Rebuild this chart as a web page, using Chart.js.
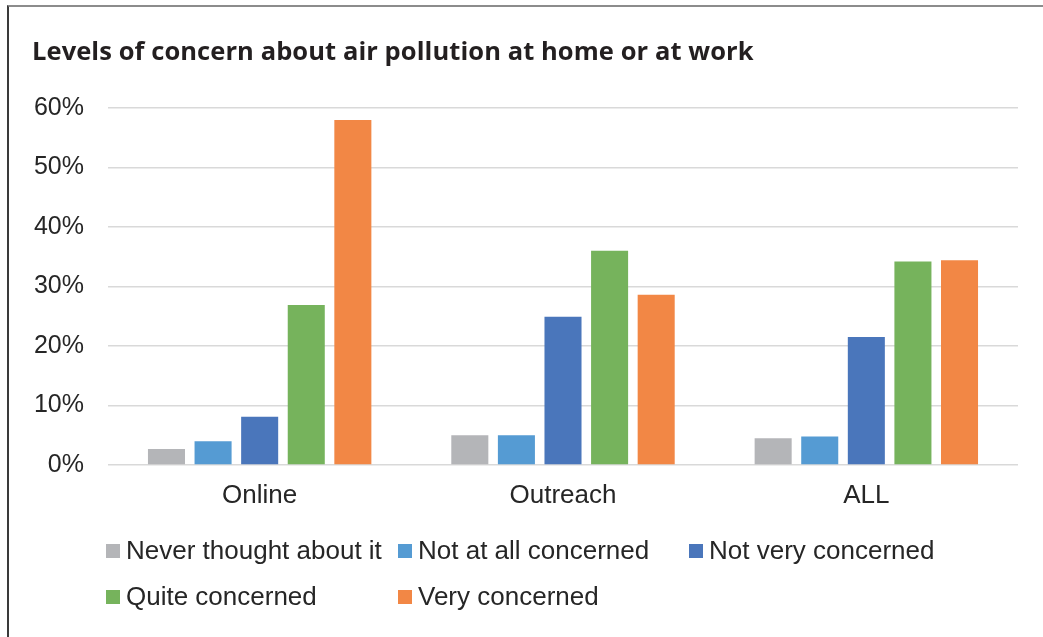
<!DOCTYPE html>
<html>
<head>
<meta charset="utf-8">
<script src="https://cdn.jsdelivr.net/npm/chart.js@4"></script>
<style>
  html, body { margin: 0; padding: 0; background: #fff; }
  #wrap { position: relative; width: 1043px; height: 637px; overflow: hidden; }
  #frame { position: absolute; left: 7px; top: 5px; right: 0; bottom: -5px;
    border-top: 2px solid #8c8c8c; border-left: 2px solid #3a3a3a; }
  #title { position: absolute; left: 32px; top: 33px; font: bold 25.5px "Open Sans", Lato, sans-serif;
    color: #231f20; white-space: nowrap; line-height: 34px; letter-spacing: 0.08px; }
  #myChart { position: absolute; left: 0; top: 0; }
  .leg { position: absolute; font: 26px "Liberation Sans", Arial, sans-serif; color: #262626;
    white-space: nowrap; line-height: 30px; }
  .leg span { display: inline-block; width: 14px; height: 14px; margin-right: 6px; vertical-align: 1px; }
</style>
</head>
<body>
<div id="wrap">
  <div id="frame"></div>
  <canvas id="myChart" width="1043" height="637"></canvas>
  <div id="title">Levels of concern about air pollution at home or at work</div>
  <div id="legend"></div>
</div>
<script>
// Categories on the x axis
const categories = ["Online", "Outreach", "ALL"];

// Series names
const seriesNames = [
  "Never thought about it",
  "Not at all concerned",
  "Not very concerned",
  "Quite concerned",
  "Very concerned",
];

// Values (%) per series, in category order
const neverThought = [2.7, 5.0, 4.5];
const notAtAll = [4.0, 5.0, 4.8];
const notVery = [8.1, 24.9, 21.5];
const quite = [26.9, 36.0, 34.2];
const very = [58.0, 28.6, 34.4];

// Tick labels on the y axis
const yTicks = [0, 10, 20, 30, 40, 50, 60];

const colors = ["#b4b5b8", "#559bd3", "#4a76bb", "#76b35c", "#f28745"];
const seriesValues = [neverThought, notAtAll, notVery, quite, very];

// Build datasets
const datasets = seriesNames.map((name, i) => ({
  label: name,
  data: seriesValues[i],
  backgroundColor: colors[i],
  categoryPercentage: 0.768,
  barPercentage: 0.795,
}));

const ctx = document.getElementById("myChart").getContext("2d");

const config = {
  type: "bar",
  data: { labels: categories, datasets: datasets },
  options: {
    responsive: false,
    animation: false,
    layout: { padding: { top: 108, right: 25, bottom: 0, left: 0 } },
    plugins: {
      legend: { display: false },
      tooltip: { enabled: false },
    },
    scales: {
      x: {
        grid: { display: false, drawTicks: false },
        border: { display: false },
        ticks: {
          padding: 15,
          color: "#262626",
          font: { family: "'Liberation Sans', Arial, sans-serif", size: 26 },
        },
        afterFit: (scale) => { scale.height = 172; },
      },
      y: {
        min: 0,
        max: 60,
        afterBuildTicks: (scale) => { scale.ticks = yTicks.map((v) => ({ value: v })); },
        grid: { color: "#d9d9d9", lineWidth: 1.5, drawTicks: false },
        border: { display: false },
        ticks: {
          padding: 24,
          color: "#262626",
          font: { family: "'Liberation Sans', Arial, sans-serif", size: 25 },
          callback: (v) => v + "%",
        },
        afterFit: (scale) => { scale.width = 108; },
      },
    },
  },
};

new Chart(ctx, config);

// Legend in Excel-like grid (3 columns)
const legendPos = [
  [106, 535], [398, 535], [689, 535],
  [106, 581], [398, 581],
];
const legendEl = document.getElementById("legend");
seriesNames.forEach((name, i) => {
  const d = document.createElement("div");
  d.className = "leg";
  d.style.left = legendPos[i][0] + "px";
  d.style.top = legendPos[i][1] + "px";
  d.innerHTML = '<span style="background:' + colors[i] + '"></span>' + name;
  legendEl.appendChild(d);
});
</script>
</body>
</html>
